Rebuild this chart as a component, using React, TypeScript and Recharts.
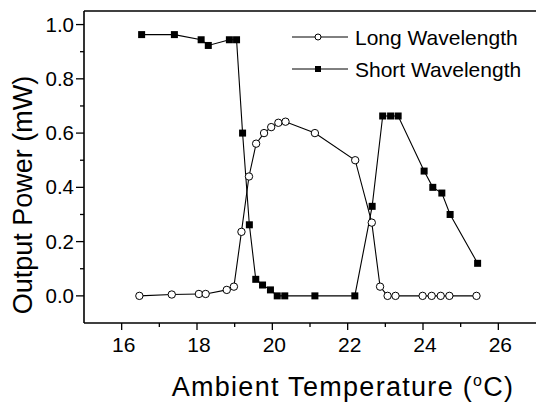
import React from 'react';
import { LineChart, Line, XAxis, YAxis, ReferenceLine } from 'recharts';

const longX = [16.47, 17.33, 18.05, 18.23, 18.79, 18.98, 19.18, 19.38, 19.57, 19.78, 19.97, 20.16, 20.35, 21.13, 22.2, 22.64, 22.86, 23.06, 23.27, 23.99, 24.23, 24.47, 24.7, 25.42];
const longY = [0, 0.005, 0.007, 0.007, 0.022, 0.034, 0.236, 0.44, 0.561, 0.6, 0.622, 0.638, 0.642, 0.6, 0.5, 0.27, 0.034, 0, 0, 0, 0, 0, 0, 0];

const shortX = [16.53, 17.4, 18.11, 18.3, 18.86, 19.05, 19.21, 19.39, 19.56, 19.74, 19.95, 20.13, 20.33, 21.13, 22.19, 22.65, 22.93, 23.14, 23.34, 24.03, 24.26, 24.5, 24.72, 25.45];
const shortY = [0.963, 0.963, 0.944, 0.923, 0.944, 0.944, 0.6, 0.262, 0.061, 0.04, 0.022, 0, 0, 0, 0, 0.33, 0.663, 0.663, 0.663, 0.46, 0.4, 0.379, 0.3, 0.12];

const xTicks = [16, 17, 18, 19, 20, 21, 22, 23, 24, 25, 26];
const yTicks = [0, 0.1, 0.2, 0.3, 0.4, 0.5, 0.6, 0.7, 0.8, 0.9, 1.0];

const seriesNames = ['Long Wavelength', 'Short Wavelength'];
const xTitle = 'Ambient Temperature (';
const yTitle = 'Output Power (mW)';

const longData = longX.map((x, i) => ({ x, y: longY[i] }));
const shortData = shortX.map((x, i) => ({ x, y: shortY[i] }));

const FONT = '"Liberation Sans", Arial, Helvetica, sans-serif';

const XTick = (props: any) => {
  const { x, y, payload } = props;
  const v = payload.value;
  const major = Math.round(v) % 2 === 0;
  return (
    <g>
      <line x1={x} x2={x} y1={y} y2={y + (major ? 7 : 4)} stroke="#000" strokeWidth={1.3} />
      {major && (
        <text x={x + 2} y={y + 29} textAnchor="middle" fontSize={21} fontFamily={FONT} fill="#000">
          {v}
        </text>
      )}
    </g>
  );
};

const YTick = (props: any) => {
  const { x, y, payload } = props;
  const v = payload.value;
  const major = Math.round(v * 10) % 2 === 0;
  return (
    <g>
      <line x1={x} x2={x - (major ? 8 : 4)} y1={y} y2={y} stroke="#000" strokeWidth={1.3} />
      {major && (
        <text x={x - 10} y={y + 7} textAnchor="end" fontSize={20.5} fontFamily={FONT} fill="#000">
          {v.toFixed(1)}
        </text>
      )}
    </g>
  );
};

const SquareDot = (p: any) => {
  if (p.cx == null || p.cy == null) return null;
  return <rect key={'s' + p.index} x={p.cx - 3.5} y={p.cy - 3.5} width={7} height={7} fill="#000" />;
};

const LegendBox = () => (
  <svg width={246} height={70} style={{ display: 'block' }}>
    <line x1={2} x2={58} y1={15} y2={15} stroke="#000" strokeWidth={1} />
    <circle cx={28} cy={15} r={3} fill="#fff" stroke="#000" strokeWidth={1} />
    <text x={65} y={22.5} fontSize={21} fontFamily={FONT} fill="#000">{seriesNames[0]}</text>
    <line x1={2} x2={58} y1={47} y2={47} stroke="#000" strokeWidth={1} />
    <rect x={25} y={44} width={6} height={6} fill="#000" />
    <text x={65} y={54.5} fontSize={21} fontFamily={FONT} fill="#000">{seriesNames[1]}</text>
  </svg>
);

export default function App() {
  return (
    <div style={{ position: 'absolute', left: 0, top: 0, width: 536, height: 402, background: '#fff' }}>
      <LineChart width={536} height={402} margin={{ top: 11, right: 0, left: 0, bottom: 0 }}>
        <XAxis
          type="number"
          dataKey="x"
          domain={[15, 27]}
          ticks={xTicks}
          allowDataOverflow
          height={79}
          tickSize={0}
          tickMargin={0}
          tickLine={false}
          tick={<XTick />}
          axisLine={{ stroke: '#000', strokeWidth: 1.6 }}
          interval={0}
          label={{
            content: (lp: any) => {
              const vb = lp.viewBox;
              return (
                <text
                  x={vb.x + vb.width / 2 + 33}
                  y={vb.y + 73}
                  textAnchor="middle"
                  fontSize={27}
                  letterSpacing={1.3}
                  fontFamily={FONT}
                  fill="#000"
                >
                  {xTitle}
                  <tspan fontSize={16} dy={-10}>o</tspan>
                  <tspan dy={10}>C)</tspan>
                </text>
              );
            },
          }}
        />
        <YAxis
          type="number"
          dataKey="y"
          domain={[-0.1, 1.05]}
          ticks={yTicks}
          allowDataOverflow
          width={84}
          tickSize={0}
          tickMargin={0}
          tickLine={false}
          tick={<YTick />}
          axisLine={{ stroke: '#000', strokeWidth: 1.6 }}
          interval={0}
          label={{
            content: (lp: any) => {
              const vb = lp.viewBox;
              const cx = 32;
              const cy = vb.y + vb.height / 2 + 28;
              return (
                <text
                  x={cx}
                  y={cy}
                  transform={`rotate(-90 ${cx} ${cy})`}
                  textAnchor="middle"
                  fontSize={27}
                  fontFamily={FONT}
                  fill="#000"
                >
                  {yTitle}
                </text>
              );
            },
          }}
        />
        <ReferenceLine y={1.05} stroke="#000" strokeWidth={1.3} ifOverflow="extendDomain" />
        <Line
          data={shortData}
          dataKey="y"
          name={seriesNames[1]}
          stroke="#000"
          strokeWidth={1.1}
          dot={<SquareDot />}
          isAnimationActive={false}
          legendType="none"
        />
        <Line
          data={longData}
          dataKey="y"
          name={seriesNames[0]}
          stroke="#000"
          strokeWidth={1.1}
          dot={{ r: 3.7, fill: '#fff', stroke: '#000', strokeWidth: 1 }}
          isAnimationActive={false}
          legendType="none"
        />
      </LineChart>
      <div style={{ position: 'absolute', left: 290, top: 22 }}>
        <LegendBox />
      </div>
    </div>
  );
}
